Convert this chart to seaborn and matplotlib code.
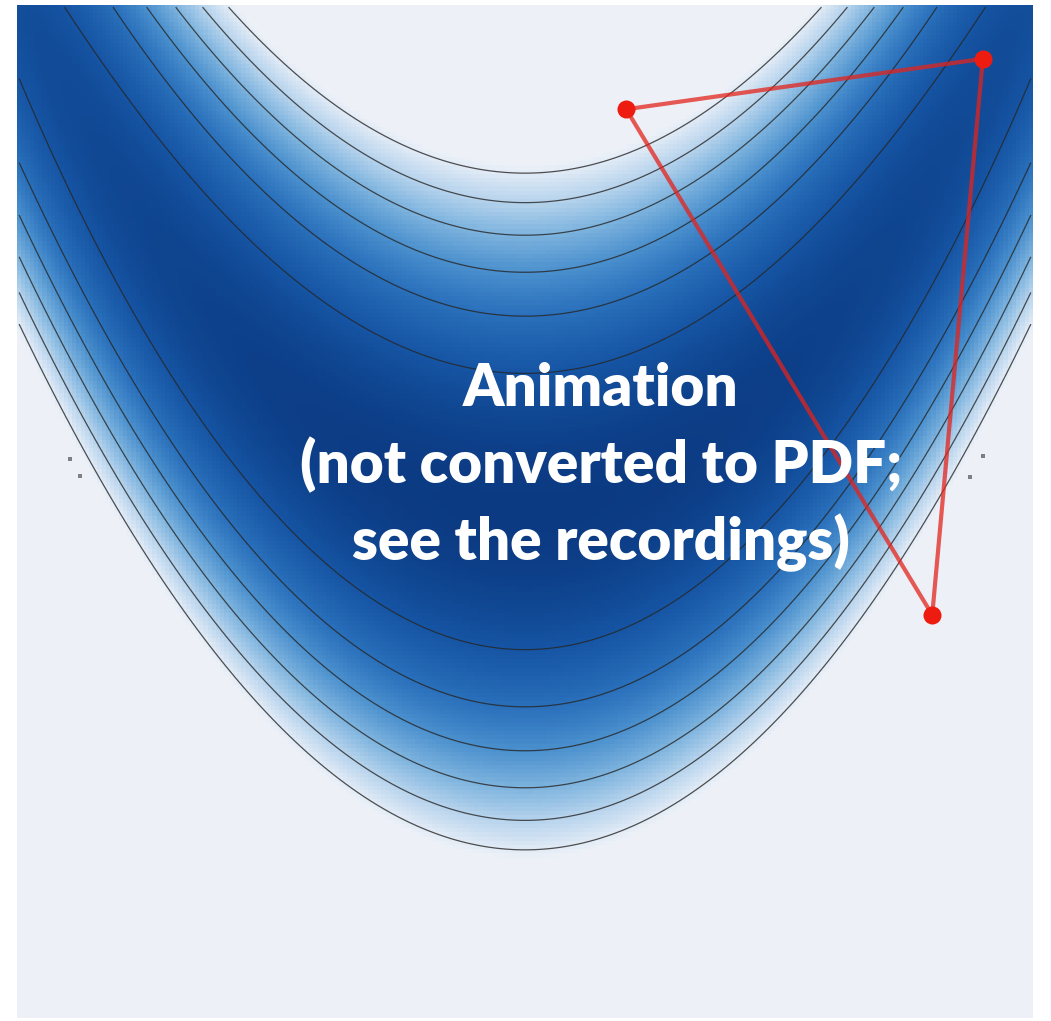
import numpy as np
import matplotlib
matplotlib.use("Agg")
import matplotlib.pyplot as plt
from matplotlib.colors import LinearSegmentedColormap
import seaborn as sns

# surface: f = valley_weight*(y - x^2)^2 + slope_weight*x^2 (symmetric banana valley)
x_range = [-2.0, 2.0]
y_range = [-4.0, 4.0]
valley_weight = 1.0
slope_weight = 0.22
contour_levels = [1.2, 2.4, 3.6, 4.8, 6.0, 7.2]
color_max = 7.6

# current simplex (triangle) vertices, data coords
simplex_x = [0.40, 1.81, 1.61]
simplex_y = [3.19, 3.59, -0.82]

# small stray marks at both sides
stray_x = [-1.80, -1.76, 1.81, 1.76]
stray_y = [0.42, 0.28, 0.44, 0.27]

label = "Animation\n(not converted to PDF;\nsee the recordings)"

ramp = ["#0b3a82", "#1554a3", "#2a70bb", "#4a8fcd", "#7db3de",
        "#b6d3ec", "#e2ebf6", "#edf1f7"]
ramp_pos = [0.0, 0.15, 0.32, 0.47, 0.63, 0.79, 0.95, 1.0]

#%% grid
nx, ny = 240, 240
xs = np.linspace(x_range[0], x_range[1], nx)
ys = np.linspace(y_range[1], y_range[0], ny)   # top row first, like heatmap
X, Y = np.meshgrid(xs, ys)
F = valley_weight * (Y - X ** 2) ** 2 + slope_weight * X ** 2
Z = np.clip(F, 0, color_max)


def to_col(x):
    return (np.asarray(x) - x_range[0]) / (x_range[1] - x_range[0]) * (nx - 1) + 0.5


def to_row(y):
    return (y_range[1] - np.asarray(y)) / (y_range[1] - y_range[0]) * (ny - 1) + 0.5


cmap = LinearSegmentedColormap.from_list("valley", list(zip(ramp_pos, ramp)))

#%% figure
fig = plt.figure(figsize=(10.51, 10.21), dpi=100, facecolor="white")
ax = fig.add_axes([17 / 1051, 3 / 1021, 1016 / 1051, 1013 / 1021])

sns.heatmap(Z, cmap=cmap, vmin=0, vmax=color_max, cbar=False,
            xticklabels=False, yticklabels=False, ax=ax, rasterized=True)

ax.contour(np.arange(nx) + 0.5, np.arange(ny) + 0.5, F,
           levels=contour_levels, colors="#262626", linewidths=0.9, alpha=0.8)

tx = list(to_col(simplex_x)) + [to_col(simplex_x[0])]
ty = list(to_row(simplex_y)) + [to_row(simplex_y[0])]
ax.plot(tx, ty, color="#e3231c", lw=3.0, alpha=0.75, solid_joinstyle="round")
ax.plot(to_col(simplex_x), to_row(simplex_y), "o", color="#ee1c10",
        markersize=13, markeredgewidth=0)

ax.plot(to_col(stray_x), to_row(stray_y), "s", color="#333333",
        markersize=2.2, markeredgewidth=0, alpha=0.6)

ax.text(to_col(0.30), to_row(0.35), label, color="white",
        fontsize=42, fontweight="heavy", family=["Lato", "DejaVu Sans"],
        ha="center", va="center", linespacing=1.45)

ax.set_xlim(0, nx)
ax.set_ylim(ny, 0)
ax.axis("off")

plt.savefig("out.png", dpi=100, facecolor="white")
